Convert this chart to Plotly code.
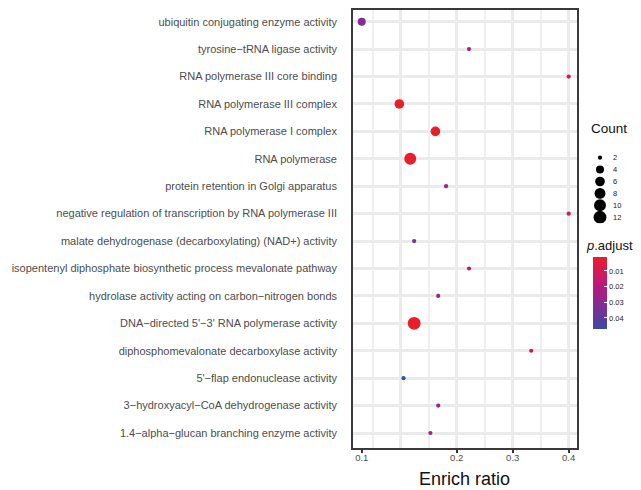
import numpy as np
import plotly.graph_objects as go

W, H = 641, 490
OX, OY = 8, 8  # page body margin offset

terms = [
    "ubiquitin conjugating enzyme activity",
    "tyrosine\u2212tRNA ligase activity",
    "RNA polymerase III core binding",
    "RNA polymerase III complex",
    "RNA polymerase I complex",
    "RNA polymerase",
    "protein retention in Golgi apparatus",
    "negative regulation of transcription by RNA polymerase III",
    "malate dehydrogenase (decarboxylating) (NAD+) activity",
    "isopentenyl diphosphate biosynthetic process mevalonate pathway",
    "hydrolase activity acting on carbon\u2212nitrogen bonds",
    "DNA\u2212directed 5'\u22123' RNA polymerase activity",
    "diphosphomevalonate decarboxylase activity",
    "5'\u2212flap endonuclease activity",
    "3\u2212hydroxyacyl\u2212CoA dehydrogenase activity",
    "1.4\u2212alpha\u2212glucan branching enzyme activity",
]
enrich_ratio = [0.0304, 0.222, 0.400, 0.0975, 0.162, 0.117, 0.181, 0.400,
                0.124, 0.222, 0.167, 0.124, 0.333, 0.105, 0.167, 0.153]
counts = [4, 2, 2, 6, 6, 10, 2, 2, 2, 2, 2, 12, 2, 2, 2, 2]
p_adjust = [0.031, 0.018, 0.012, 0.001, 0.001, 0.001, 0.025, 0.012,
            0.036, 0.018, 0.027, 0.001, 0.010, 0.047, 0.027, 0.026]

legend_counts = [2, 4, 6, 8, 10, 12]
x_tick_values = [0.0304, 0.2, 0.3, 0.4]
x_tick_labels = ["0.1", "0.2", "0.3", "0.4"]
x_major_grid = [0.1, 0.2, 0.3, 0.4]
x_minor_grid = [0.05, 0.15, 0.25, 0.35]
cbar_ticks = [0.01, 0.02, 0.03, 0.04]

FONT = "Liberation Sans, Arial, sans-serif"
colorscale = [
    [0.0, "#E81E28"], [0.2, "#D41A56"], [0.42, "#B3197F"],
    [0.63, "#8C2A91"], [0.85, "#5C3A9B"], [1.0, "#3A4CA3"],
]


def dot_size(c):
    return 4.2 + 8.6 * np.sqrt((c - min(legend_counts)) / (max(legend_counts) - min(legend_counts)))


def px_x(p):
    return min(1.0, max(0.0, (p - OX) / W))


def px_y(p):
    return min(1.0, max(0.0, 1 - (p - OY) / H))


pmin, pmax = min(p_adjust), max(p_adjust)

fig = go.Figure()
fig.add_trace(go.Scatter(
    x=enrich_ratio, y=terms, mode="markers",
    marker=dict(
        size=[dot_size(c) for c in counts], opacity=1,
        color=p_adjust, colorscale=colorscale, cmin=pmin, cmax=pmax,
        line=dict(width=0), showscale=False,
    ),
    showlegend=False, hoverinfo="skip",
))

# reversed colour bar (low p.adjust on top, as in the reference)
fig.add_trace(go.Scatter(
    x=enrich_ratio, y=terms, mode="markers",
    marker=dict(
        size=1, opacity=0,
        color=[-v for v in p_adjust], colorscale=colorscale, reversescale=True,
        cmin=-pmax, cmax=-pmin, showscale=True,
        colorbar=dict(
            x=px_x(593.3), xanchor="left", xpad=0,
            y=px_y(292.9), yanchor="middle", ypad=0,
            len=72, lenmode="pixels", thickness=14, thicknessmode="pixels",
            outlinewidth=0, borderwidth=0,
            tickvals=[-v for v in cbar_ticks], ticktext=[f"{v:.2f}" for v in cbar_ticks],
            ticks="inside", tickcolor="white", ticklen=3, tickwidth=1,
            tickfont=dict(size=7.5, color="#222222", family=FONT),
        ),
    ),
    showlegend=False, hoverinfo="skip",
))

# size legend
fig.add_trace(go.Scatter(
    x=[0] * len(legend_counts), y=legend_counts, mode="markers",
    marker=dict(size=[dot_size(c) for c in legend_counts], color="black", opacity=1,
                line=dict(width=0)),
    xaxis="x3", yaxis="y3", showlegend=False, hoverinfo="skip",
))
# invisible trace for the tick-label axis
fig.add_trace(go.Scatter(x=[enrich_ratio[0]], y=[terms[0]], mode="markers",
                         marker=dict(opacity=0), xaxis="x2", showlegend=False, hoverinfo="skip"))

xr = [0.013, 0.4166]
n = len(terms)
# panel spans screen y 9..449 ; rows at 21.7 .. 433
PANEL_L, PANEL_R, PANEL_TOP, PANEL_BOT = 352, 578, 9, 449
row_step = (433 - 21.7) / (n - 1)
y_top_idx = -(21.7 - PANEL_TOP) / row_step
y_bot_idx = (n - 1) + (PANEL_BOT - 433) / row_step

annotations = [
    dict(text="Enrich ratio", x=px_x(464), y=px_y(479), xref="paper", yref="paper",
         xanchor="center", yanchor="middle",
         showarrow=False, font=dict(size=18, color="#111111", family=FONT)),
    dict(text="Count", x=px_x(609), y=px_y(128), xref="paper", yref="paper",
         xanchor="center", yanchor="middle",
         showarrow=False, font=dict(size=13.5, color="#111111", family=FONT)),
    dict(text="<i>p</i>.adjust", x=px_x(609.5), y=px_y(245), xref="paper", yref="paper",
         xanchor="center", yanchor="middle",
         showarrow=False, font=dict(size=13, color="#111111", family=FONT)),
]
for c in legend_counts:
    annotations.append(dict(text=str(c), x=px_x(611), y=c, xref="paper", yref="y3",
                            xanchor="left", yanchor="middle", showarrow=False,
                            font=dict(size=7.5, color="#222222", family=FONT)))

shapes = [dict(type="rect", xref="paper", yref="paper",
               x0=px_x(PANEL_L), x1=px_x(PANEL_R), y0=px_y(PANEL_BOT), y1=px_y(PANEL_TOP),
               line=dict(color="#3A3A3A", width=2), fillcolor="rgba(0,0,0,0)", layer="above")]

fig.update_layout(
    width=W, height=H, template="none",
    margin=dict(l=0, r=0, t=0, b=0),
    paper_bgcolor="white", plot_bgcolor="white",
    font=dict(family=FONT),
    xaxis=dict(
        domain=[px_x(PANEL_L), px_x(PANEL_R)], range=xr, anchor="y",
        tickvals=x_major_grid, showticklabels=False, ticks="",
        showgrid=True, gridcolor="#EBEBEB", gridwidth=2.8,
        minor=dict(tickvals=x_minor_grid, showgrid=True, gridcolor="#EFEFEF", gridwidth=2, ticks=""),
        showline=False, zeroline=False, automargin=False,
    ),
    xaxis2=dict(
        overlaying="x", anchor="y", side="bottom", range=xr,
        tickvals=x_tick_values, ticktext=x_tick_labels,
        ticks="outside", ticklen=3, tickwidth=1.5, tickcolor="#333333",
        ticklabelstandoff=-3,
        tickfont=dict(size=9.5, color="#4D4D4D", family=FONT),
        showgrid=False, zeroline=False, showline=False, automargin=False,
    ),
    yaxis=dict(
        domain=[px_y(PANEL_BOT), px_y(PANEL_TOP)], anchor="x",
        type="category", categoryorder="array", categoryarray=terms,
        range=[y_bot_idx, y_top_idx],
        ticks="", ticklabelstandoff=14,
        tickfont=dict(size=11, color="#4D4D4D", family=FONT),
        showgrid=True, gridcolor="#EBEBEB", gridwidth=2.8,
        showline=False, zeroline=False, automargin=False,
    ),
    xaxis3=dict(domain=[px_x(585), px_x(615)], range=[-15, 15], visible=False, anchor="y3"),
    yaxis3=dict(domain=[px_y(223.2), px_y(151.7)], range=[13, 1], visible=False, anchor="x3"),
    annotations=annotations,
    shapes=shapes,
)

fig.write_html("out.html")
